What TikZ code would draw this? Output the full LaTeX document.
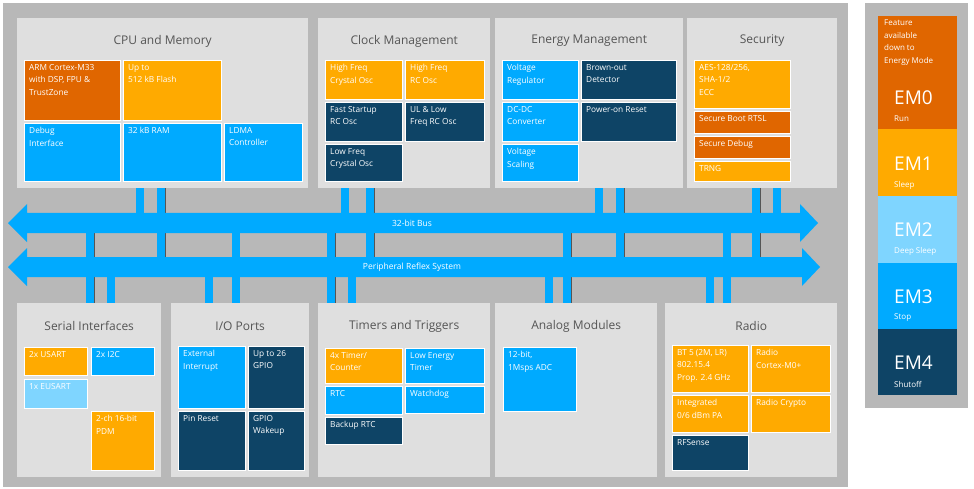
\documentclass[tikz,border=0pt]{standalone}
\usepackage{fontspec}
\setmainfont{Open Sans}
\definecolor{bg}{HTML}{B8B8B8}
\definecolor{pan}{HTML}{DFDFDF}
\definecolor{cblue}{HTML}{00AAFF}
\definecolor{cdark}{HTML}{0E4466}
\definecolor{corg}{HTML}{FFAA00}
\definecolor{cdorg}{HTML}{E06600}
\definecolor{clight}{HTML}{7FD5FF}
\definecolor{ttl}{HTML}{555555}
\definecolor{shad}{HTML}{555555}
\tikzset{
 blk/.style={draw=white, line width=0.6pt, inner sep=0, outer sep=0, anchor=north west},
 lbl/.style={anchor=north west, inner sep=0, text=white, font=\fontsize{8.3}{12.5}\selectfont, align=left},
 panel/.style={fill=pan, draw=none, inner sep=0, anchor=north west},
 title/.style={text=ttl, font=\fontsize{12}{14}\selectfont, inner sep=0},
 stub/.style={fill=cblue},
 bus/.style={fill=cblue},
 buslbl/.style={text=white, font=\fontsize{8.5}{10}\selectfont, inner sep=0},
 em/.style={text=white, font=\fontsize{19}{20}\selectfont, anchor=west, inner sep=0},
 emsub/.style={text=white, font=\fontsize{8}{9}\selectfont, anchor=west, inner sep=0},
}
\newcommand\blk[7]{\node[blk,fill=#6,minimum width={(#4-#2)*1pt},minimum height={(#5-#3)*1pt}] (#1) at (#2,#3) {};
 \node[lbl] (#1-t) at ([xshift=5pt,yshift=-4pt]#1.north west) {#7};}
\newcommand\pnl[6]{\node[panel,minimum width={(#4-#2)*1pt},minimum height={(#5-#3)*1pt}] (#1) at (#2,#3) {};
 \node[title] (#1-t) at ([yshift=-23pt]#1.north) {#6};}
\newcommand\stb[4]{\fill[stub] (#1,#2) rectangle (#1+8,#3);
 \ifx#4s\fill[shad] (#1+8,#2) rectangle (#1+9.3,#3);\fi}
\begin{document}
\begin{tikzpicture}[x=1pt,y=-1pt]
\useasboundingbox (0,0) rectangle (974,489);
\fill[white] (0,0) rectangle (974,489);
\fill[bg] (3,3) rectangle (848,487);
\fill[bg] (865,3) rectangle (968,408);
% top panels
\pnl{cpu}{17}{18}{308}{188}{CPU and Memory}
\pnl{clk}{318}{18}{490}{188}{Clock Management}
\pnl{nrg}{495}{18}{683}{188}{Energy Management}
\pnl{sec}{687}{18}{837}{188}{Security}
% bottom panels
\pnl{ser}{17}{303}{161}{477}{Serial Interfaces}
\pnl{io}{171}{303}{309}{477}{I/O Ports}
\pnl{tim}{318}{303}{490}{477}{Timers and Triggers}
\pnl{ana}{495}{303}{657}{477}{Analog Modules}
\pnl{rad}{665}{303}{837}{477}{Radio}
% stubs
\stb{136}{188}{213}{n}
\stb{157}{188}{257}{s}
\stb{341}{188}{213}{n}
\stb{366}{188}{257}{s}
\stb{595}{188}{213}{n}
\stb{616}{188}{257}{s}
\stb{752}{188}{257}{s}
\stb{773}{188}{213}{n}
\stb{86}{233}{303}{s}
\stb{107}{277}{303}{n}
\stb{205}{277}{303}{n}
\stb{232}{233}{303}{n}
\stb{327}{233}{303}{s}
\stb{348}{277}{303}{n}
\stb{545}{277}{303}{n}
\stb{563}{233}{303}{s}
\stb{706}{277}{303}{n}
\stb{723}{233}{303}{n}
% buses
\fill[bus] (8,223)--(27,204)--(27,213)--(800,213)--(800,204)--(818,223)--(800,242)--(800,233)--(27,233)--(27,242)--cycle;
\node[buslbl] (b32) at (412,223) {32-bit Bus};
\fill[bus] (8,267)--(27,248)--(27,257)--(802,257)--(802,248)--(820,267)--(802,286)--(802,277)--(27,277)--(27,286)--cycle;
\node[buslbl] (prs) at (412,267) {Peripheral Reflex System};
% CPU
\blk{arm}{24}{60}{120}{120}{cdorg}{ARM Cortex-M33\\with DSP, FPU \&\\TrustZone}
\blk{fl}{123}{60}{221}{120}{corg}{Up to\\512 kB Flash}
\blk{dbg}{24}{123}{120}{181}{cblue}{Debug\\Interface}
\blk{ram}{123}{123}{221}{181}{cblue}{32 kB RAM}
\blk{ldma}{224}{123}{302}{181}{cblue}{LDMA\\Controller}
% Clock
\blk{hfxo}{325}{60}{402}{99}{corg}{High Freq\\Crystal Osc}
\blk{hfrco}{405}{60}{484}{99}{corg}{High Freq\\RC Osc}
\blk{fsrco}{325}{102}{402}{141}{cdark}{Fast Startup\\RC Osc}
\blk{ulrco}{405}{102}{484}{141}{cdark}{UL \& Low\\Freq RC Osc}
\blk{lfxo}{325}{144}{402}{181}{cdark}{Low Freq\\Crystal Osc}
% Energy
\blk{vreg}{502}{60}{578}{99}{cblue}{Voltage\\Regulator}
\blk{bod}{581}{60}{676}{99}{cdark}{Brown-out\\Detector}
\blk{dcdc}{502}{102}{578}{141}{cblue}{DC-DC\\Converter}
\blk{por}{581}{102}{676}{141}{cdark}{Power-on Reset}
\blk{vsc}{502}{144}{578}{181}{cblue}{Voltage\\Scaling}
% Security
\blk{aes}{694}{60}{790}{108}{corg}{AES-128/256,\\SHA-1/2\\ECC}
\blk{sboot}{694}{111}{790}{133}{cdorg}{Secure Boot RTSL}
\blk{sdbg}{694}{136}{790}{158}{cdorg}{Secure Debug}
\blk{trng}{694}{161}{790}{181}{corg}{TRNG}
% Serial
\blk{usart}{24}{347}{87}{375}{corg}{2x USART}
\blk{i2c}{91}{347}{154}{375}{cblue}{2x I2C}
\blk{eus}{24}{379}{87}{408}{clight}{1x EUSART}
\blk{pdm}{91}{411}{154}{470}{corg}{2-ch 16-bit\\PDM}
% IO
\blk{ext}{178}{346}{245}{408}{cblue}{External\\Interrupt}
\blk{gpio}{248}{346}{304}{408}{cdark}{Up to 26\\GPIO}
\blk{pinr}{178}{411}{245}{470}{cdark}{Pin Reset}
\blk{gwk}{248}{411}{304}{470}{cdark}{GPIO\\Wakeup}
% Timers
\blk{tmr}{325}{348}{402}{383}{corg}{4x Timer/\\Counter}
\blk{let}{405}{348}{484}{383}{cblue}{Low Energy\\Timer}
\blk{rtc}{325}{386}{402}{414}{cblue}{RTC}
\blk{wdog}{405}{386}{484}{413}{cblue}{Watchdog}
\blk{brtc}{325}{417}{402}{444}{cdark}{Backup RTC}
% Analog
\blk{adc}{503}{347}{576}{411}{cblue}{12-bit,\\1Msps ADC}
% Radio
\blk{bt}{672}{345}{748}{392}{corg}{BT 5 (2M, LR)\\802.15.4\\Prop. 2.4 GHz}
\blk{rm0}{751}{345}{830}{392}{corg}{Radio\\Cortex-M0+}
\blk{pa}{672}{395}{748}{432}{corg}{Integrated\\0/6 dBm PA}
\blk{rcr}{751}{395}{830}{432}{corg}{Radio Crypto}
\blk{rfs}{672}{435}{748}{470}{cdark}{RFSense}
% Energy modes
\fill[cdorg] (878,16) rectangle (957,129);
\fill[corg] (878,129) rectangle (957,196);
\fill[clight] (878,196) rectangle (957,263);
\fill[cblue] (878,263) rectangle (957,329);
\fill[cdark] (878,329) rectangle (957,395);
\node[lbl,font=\fontsize{8}{12.5}\selectfont] (feat) at (884,20) {Feature\\available\\down to\\Energy Mode};
\node[em] (em0) at (894,98) {EM0}; \node[emsub] (em0s) at (894,119) {Run};
\node[em] (em1) at (894,164) {EM1}; \node[emsub] (em1s) at (894,185) {Sleep};
\node[em] (em2) at (894,230) {EM2}; \node[emsub] (em2s) at (894,251) {Deep Sleep};
\node[em] (em3) at (894,297) {EM3}; \node[emsub] (em3s) at (894,318) {Stop};
\node[em] (em4) at (894,363) {EM4}; \node[emsub] (em4s) at (894,384) {Shutoff};
\end{tikzpicture}
\end{document}
